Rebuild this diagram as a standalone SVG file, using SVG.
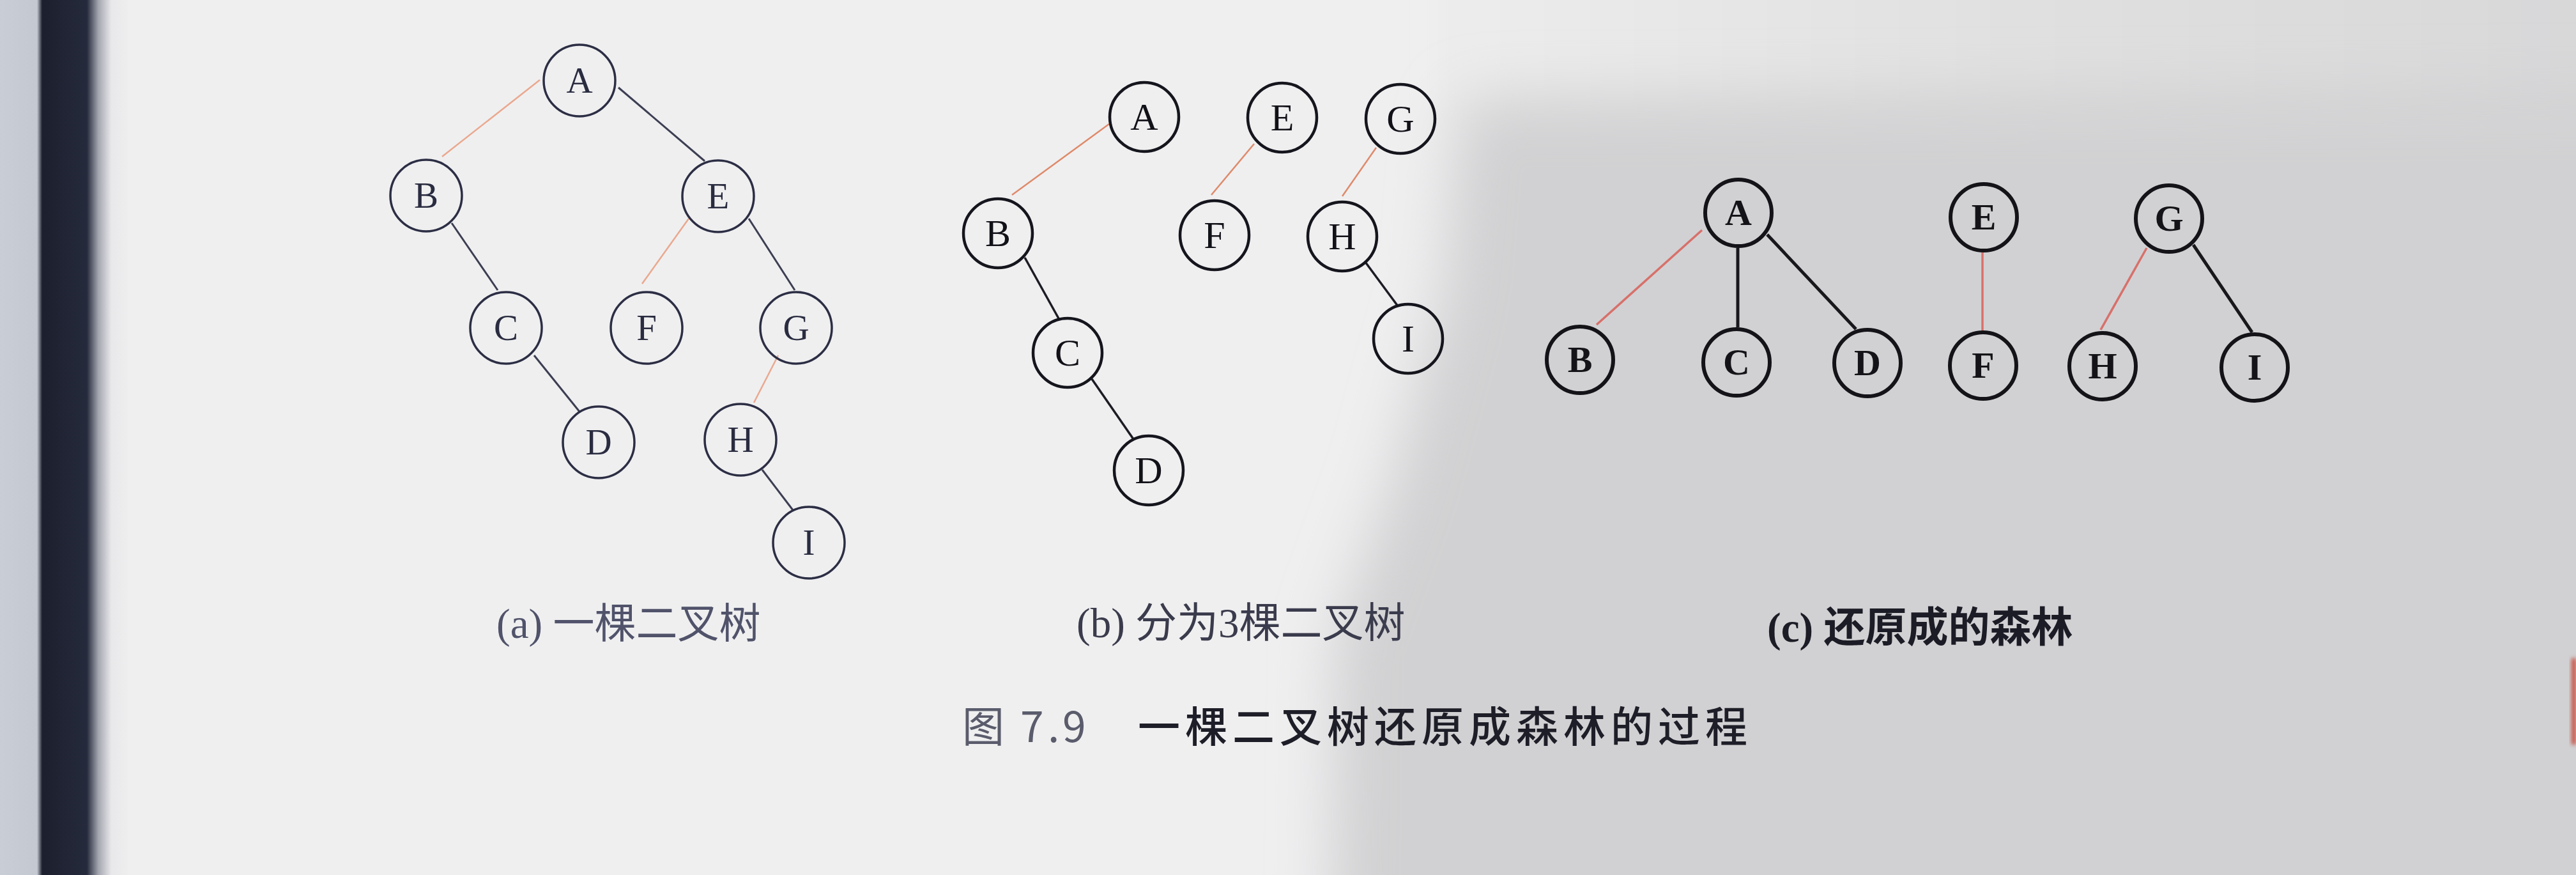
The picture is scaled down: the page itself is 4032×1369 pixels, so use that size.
<svg xmlns="http://www.w3.org/2000/svg" width="4032" height="1369" viewBox="0 0 4032 1369">
<defs>
<linearGradient id="edge" gradientUnits="userSpaceOnUse" x1="0" y1="0" x2="200" y2="0">
<stop offset="0" stop-color="#c9ced6"/>
<stop offset="0.29" stop-color="#c3c8d1"/>
<stop offset="0.33" stop-color="#1c1f2d"/>
<stop offset="0.68" stop-color="#252a3c"/>
<stop offset="0.77" stop-color="#a4a6b0"/>
<stop offset="0.87" stop-color="#e8e8ea"/>
<stop offset="1" stop-color="#eeeeef"/>
</linearGradient>
<linearGradient id="topr" gradientUnits="userSpaceOnUse" x1="2300" y1="0" x2="4032" y2="0">
<stop offset="0" stop-color="#ececec"/>
<stop offset="0.4" stop-color="#e2e2e2"/>
<stop offset="1" stop-color="#d8d8d9"/>
</linearGradient>
<filter id="blur" filterUnits="userSpaceOnUse" x="1500" y="-200" width="3200" height="2000"><feGaussianBlur stdDeviation="45"/></filter>
<filter id="blur2" filterUnits="userSpaceOnUse" x="2000" y="-300" width="2500" height="700"><feGaussianBlur stdDeviation="18"/></filter>
<filter id="blur3" x="-50%" y="-50%" width="200%" height="200%"><feGaussianBlur stdDeviation="3"/></filter>
</defs>
<style>
.ca{fill:none;stroke:#2c2e44;stroke-width:3.5}
.ta{font-family:"Liberation Serif",serif;font-size:57px;fill:#2a2c40;text-anchor:middle}
.cb{fill:none;stroke:#15151d;stroke-width:4.5}
.tb{font-family:"Liberation Serif",serif;font-size:60px;fill:#111118;text-anchor:middle}
.cc{fill:none;stroke:#141418;stroke-width:6}
.tc{font-family:"Liberation Serif",serif;font-size:58px;font-weight:bold;fill:#141418;text-anchor:middle}
.ka{stroke:#3c3e52;stroke-width:3;fill:none}
.ra{stroke:#eaa88e;stroke-width:2.5;fill:none}
.kb{stroke:#1c1c24;stroke-width:3.5;fill:none}
.rb{stroke:#df8a6a;stroke-width:2.5;fill:none}
.kc{stroke:#18181c;stroke-width:5;fill:none}
.rc{stroke:#d8706a;stroke-width:3.5;fill:none}
.cap{font-family:"Liberation Serif","Noto Sans CJK SC",sans-serif;font-size:65px}
.fig{font-family:"Noto Sans CJK SC",sans-serif;font-size:66px}
</style>

<g id="background">
<rect x="0" y="0" width="4032" height="1369" fill="#efeff0"/>
<rect x="2250" y="-100" width="2100" height="300" fill="url(#topr)" filter="url(#blur2)"/>
<path d="M2300,155 L4400,140 L4400,1700 L2080,1700 L2090,1000 L2180,750 L2260,450 L2280,200 Z" fill="#d1d1d3" filter="url(#blur)"/>
<rect x="0" y="0" width="200" height="1369" fill="url(#edge)"/>
<rect x="4025" y="1030" width="7" height="135" fill="#c64a3a" filter="url(#blur3)"/>
</g>

<g id="connectors">
<!-- (a) -->
<line class="ra" x1="845" y1="125" x2="692" y2="245"/>
<line class="ka" x1="968" y1="137" x2="1103" y2="252"/>
<line class="ka" x1="707" y1="349" x2="779" y2="454"/>
<line class="ra" x1="1078" y1="342" x2="1005" y2="444"/>
<line class="ka" x1="1172" y1="342" x2="1244" y2="454"/>
<line class="ka" x1="836" y1="556" x2="907" y2="644"/>
<line class="ra" x1="1218" y1="556" x2="1180" y2="630"/>
<line class="ka" x1="1193" y1="735" x2="1241" y2="798"/>
<!-- (b) -->
<line class="rb" x1="1736" y1="194" x2="1584" y2="305"/>
<line class="rb" x1="1963" y1="225" x2="1896" y2="305"/>
<line class="rb" x1="2154" y1="231" x2="2101" y2="307"/>
<line class="kb" x1="1604" y1="403" x2="1658" y2="500"/>
<line class="kb" x1="1709" y1="593" x2="1774" y2="687"/>
<line class="kb" x1="2137" y1="410" x2="2188" y2="479"/>
<!-- (c) -->
<line class="rc" x1="2664" y1="360" x2="2499" y2="508"/>
<line class="kc" x1="2720" y1="388" x2="2720" y2="512"/>
<line class="kc" x1="2766" y1="367" x2="2905" y2="515"/>
<line class="rc" x1="3103" y1="395" x2="3103" y2="517"/>
<line class="rc" x1="3360" y1="388" x2="3288" y2="516"/>
<line class="kc" x1="3433" y1="383" x2="3525" y2="520"/>
</g>

<g id="tree-a">
<g id="a-A"><circle class="ca" cx="907" cy="126" r="56"/><text class="ta" x="907" y="145">A</text></g>
<g id="a-B"><circle class="ca" cx="667" cy="306" r="56"/><text class="ta" x="667" y="325">B</text></g>
<g id="a-E"><circle class="ca" cx="1124" cy="307" r="56"/><text class="ta" x="1124" y="326">E</text></g>
<g id="a-C"><circle class="ca" cx="792" cy="513" r="56"/><text class="ta" x="792" y="532">C</text></g>
<g id="a-F"><circle class="ca" cx="1012" cy="513" r="56"/><text class="ta" x="1012" y="532">F</text></g>
<g id="a-G"><circle class="ca" cx="1246" cy="513" r="56"/><text class="ta" x="1246" y="532">G</text></g>
<g id="a-D"><circle class="ca" cx="937" cy="692" r="56"/><text class="ta" x="937" y="711">D</text></g>
<g id="a-H"><circle class="ca" cx="1159" cy="688" r="56"/><text class="ta" x="1159" y="707">H</text></g>
<g id="a-I"><circle class="ca" cx="1266" cy="849" r="56"/><text class="ta" x="1266" y="868">I</text></g>
</g>

<g id="tree-b">
<g id="b-A"><circle class="cb" cx="1791" cy="183" r="54"/><text class="tb" x="1791" y="203">A</text></g>
<g id="b-E"><circle class="cb" cx="2007" cy="184" r="54"/><text class="tb" x="2007" y="204">E</text></g>
<g id="b-G"><circle class="cb" cx="2192" cy="186" r="54"/><text class="tb" x="2192" y="206">G</text></g>
<g id="b-B"><circle class="cb" cx="1562" cy="365" r="54"/><text class="tb" x="1562" y="385">B</text></g>
<g id="b-F"><circle class="cb" cx="1901" cy="368" r="54"/><text class="tb" x="1901" y="388">F</text></g>
<g id="b-H"><circle class="cb" cx="2101" cy="370" r="54"/><text class="tb" x="2101" y="390">H</text></g>
<g id="b-C"><circle class="cb" cx="1671" cy="552" r="54"/><text class="tb" x="1671" y="572">C</text></g>
<g id="b-I"><circle class="cb" cx="2204" cy="530" r="54"/><text class="tb" x="2204" y="550">I</text></g>
<g id="b-D"><circle class="cb" cx="1798" cy="736" r="54"/><text class="tb" x="1798" y="756">D</text></g>
</g>

<g id="tree-c">
<g id="c-A"><circle class="cc" cx="2721" cy="333" r="52"/><text class="tc" x="2721" y="352">A</text></g>
<g id="c-E"><circle class="cc" cx="3105" cy="340" r="52"/><text class="tc" x="3105" y="359">E</text></g>
<g id="c-G"><circle class="cc" cx="3395" cy="342" r="52"/><text class="tc" x="3395" y="361">G</text></g>
<g id="c-B"><circle class="cc" cx="2473" cy="563" r="52"/><text class="tc" x="2473" y="582">B</text></g>
<g id="c-C"><circle class="cc" cx="2718" cy="567" r="52"/><text class="tc" x="2718" y="586">C</text></g>
<g id="c-D"><circle class="cc" cx="2923" cy="568" r="52"/><text class="tc" x="2923" y="587">D</text></g>
<g id="c-F"><circle class="cc" cx="3104" cy="572" r="52"/><text class="tc" x="3104" y="591">F</text></g>
<g id="c-H"><circle class="cc" cx="3291" cy="573" r="52"/><text class="tc" x="3291" y="592">H</text></g>
<g id="c-I"><circle class="cc" cx="3529" cy="575" r="52"/><text class="tc" x="3529" y="594">I</text></g>
</g>

<g id="captions">
<text class="cap" x="777" y="998" fill="#50536a">(a) 一棵二叉树</text>
<text class="cap" x="1685" y="997" fill="#3a3b4c">(b) 分为3棵二叉树</text>
<text class="cap" x="2766" y="1004" fill="#1c1c26" font-weight="bold">(c) 还原成的森林</text>
<text class="fig" y="1161"><tspan x="1506" fill="#5a5c6c">图</tspan><tspan x="1597" fill="#5a5c6c">7</tspan><tspan x="1640" fill="#5a5c6c">.</tspan><tspan x="1663" fill="#5a5c6c">9</tspan><tspan x="1781" fill="#1e1e28" font-weight="500" letter-spacing="8">一棵二叉树还原成森林的过程</tspan></text>
</g>
</svg>
